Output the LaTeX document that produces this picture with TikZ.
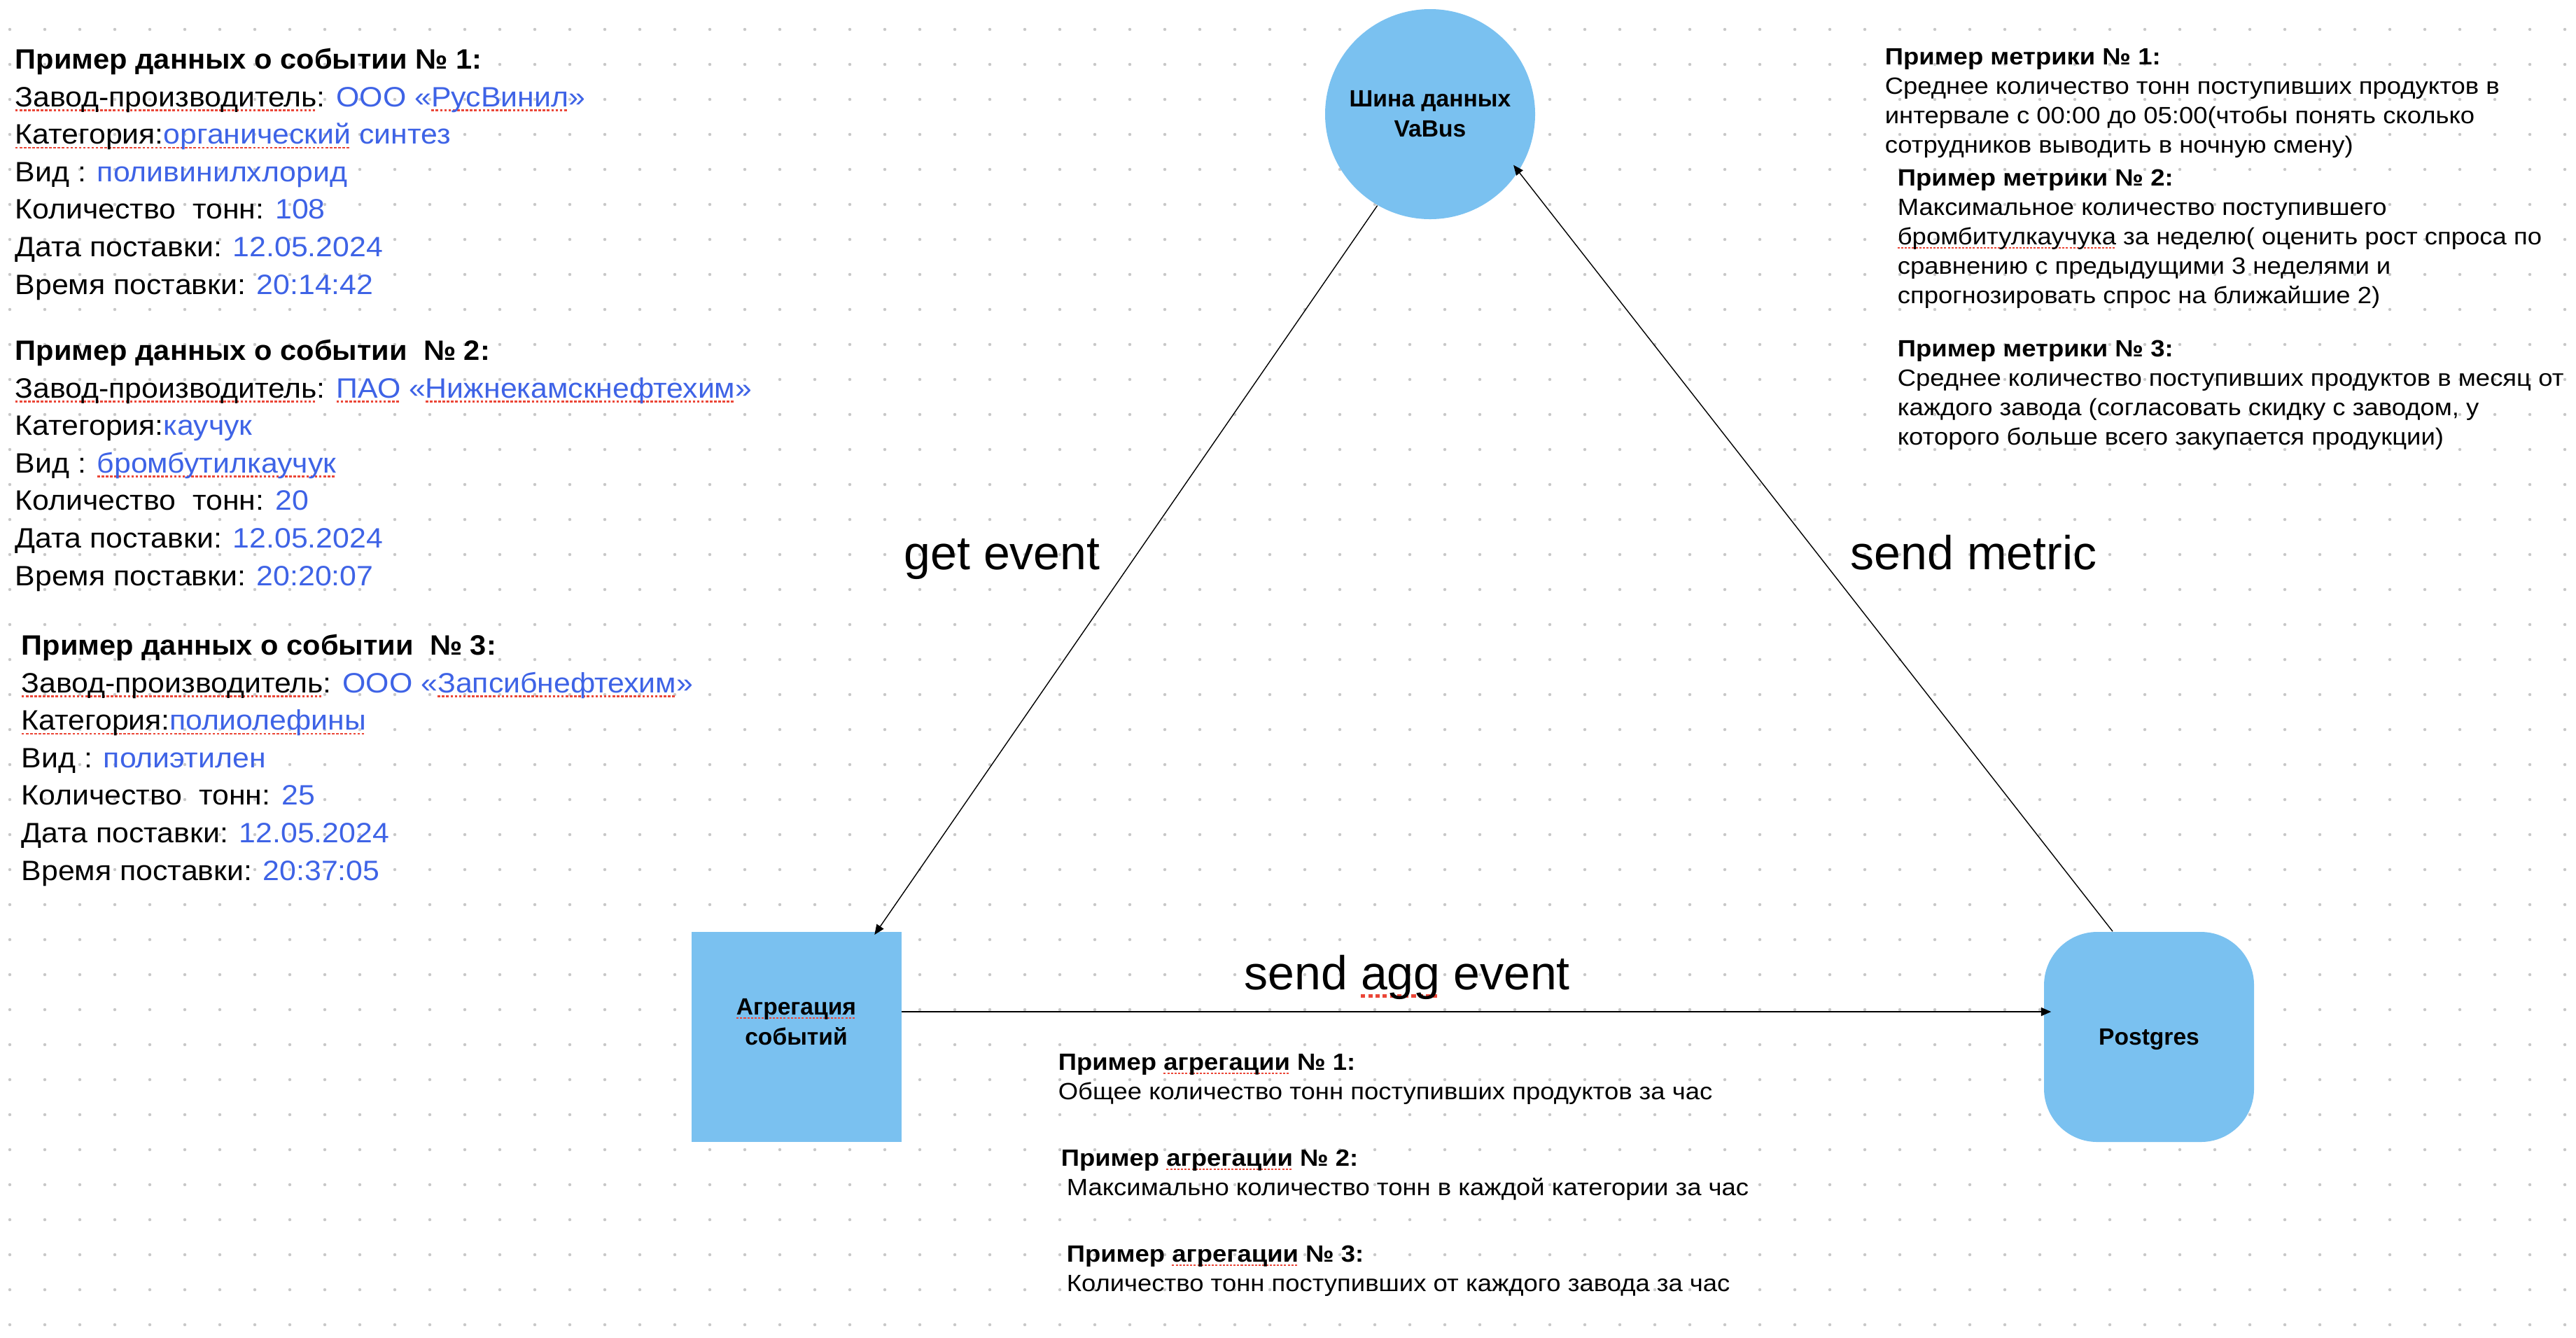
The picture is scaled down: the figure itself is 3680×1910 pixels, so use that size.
\documentclass[tikz,border=0pt]{standalone}
\usepackage{fontspec}
\setmainfont{Liberation Sans}[FakeStretch=1.07]
\newfontfamily\notefamily{Liberation Sans}[FakeStretch=1.085]
\newfontfamily\evheadfamily{Liberation Sans}[FakeStretch=1.04]
\newfontfamily\plainfamily{Liberation Sans}
\usepackage{tikz}
\usetikzlibrary{arrows.meta,positioning,shapes.geometric}
\definecolor{busblue}{RGB}{122,193,240}
\definecolor{valblue}{RGB}{62,99,230}
\definecolor{spellred}{RGB}{235,70,55}
\definecolor{griddot}{RGB}{200,200,200}
\newcommand{\evfont}{\fontsize{10}{13.4}\selectfont}
\newcommand{\notefont}{\notefamily\fontsize{8.4}{10.5}\selectfont}
\newcommand{\boxfont}{\plainfamily\bfseries\fontsize{8.4}{10.75}\selectfont}
\newcommand{\flowfont}{\plainfamily\fontsize{17}{20}\selectfont}
\tikzstyle{busnode} = [circle, fill=busblue, minimum size=75pt, inner sep=0pt, align=center, font=\boxfont]
\tikzstyle{aggnode} = [rectangle, fill=busblue, minimum size=75pt, inner sep=0pt, align=center, font=\boxfont]
\tikzstyle{dbnode} = [rectangle, rounded corners=19pt, fill=busblue, minimum size=75pt, inner sep=0pt, font=\boxfont]
\tikzstyle{evtext} = [anchor=base west, inner sep=0pt, align=left, font=\evfont]
\tikzstyle{notetext} = [anchor=base west, inner sep=0pt, align=left, font=\notefont]
\tikzstyle{flowlabel} = [anchor=base west, inner sep=0pt, font=\flowfont]
\tikzstyle{flowlink} = [draw, line width=0.35pt, -{Triangle[length=3.6pt,width=3pt]}]
\newcommand{\val}[1]{\textcolor{valblue}{#1}}% blue value text
\newsavebox{\splbox}
\newcommand{\spl}[1]{% red dotted mark under a word
  \sbox{\splbox}{#1}%
  \rlap{\lower0.17em\hbox to\wd\splbox{\color{spellred}\xleaders\hbox{\rule{0.09em}{0.065em}\kern0.06em}\hfil}}%
  \usebox{\splbox}%
}
\newcommand{\eventblock}[9]{% #1: name; #2: base point of last line; #3: number; #4: plant; #5: category; #6..#9: fields
  \node[evtext] (#1) at (#2) {{\evheadfamily\bfseries Пример данных о событии#3:}\\
    \spl{Завод-производитель}: \val{#4}\\
    #5\\
    Вид : \val{#6}\\
    Количество\ \ тонн: \val{#7}\\
    Дата поставки: \val{12.05.2024}\\
    Время поставки: \val{#9}};
}
\begin{document}
\begin{tikzpicture}[x=0.25pt, y=-0.25pt]
        % canvas and dot grid
        \fill[white] (0,0) rectangle (3680,1910);
        \useasboundingbox (0,0) rectangle (3680,1910);
        \foreach \gx in {0,...,73} {
          \foreach \gy in {0,...,37} { \fill[griddot] (14+50*\gx, 42+50*\gy) circle (0.55pt); }
        }
        % event examples
        \eventblock{ev1}{21,420}{ № 1}{ООО «\spl{РусВинил}»}{\spl{Категория:}\val{\spl{органический} синтез}}{поливинилхлорид}{108}{}{20:14:42}
        \eventblock{ev2}{21,836}{\ \ № 2}{\spl{ПАО} «\spl{Нижнекамскнефтехим}»}{Категория:\val{каучук}}{\spl{бромбутилкаучук}}{20}{}{20:20:07}
        \eventblock{ev3}{30,1257}{\ \ № 3}{ООО «\spl{Запсибнефтехим}»}{\spl{Категория:}\val{\spl{полиолефины}}}{полиэтилен}{25}{}{20:37:05}
        % services
        \node[busnode] (bus) at (2043,163) {Шина данных\\VaBus};
        \node[aggnode, text depth=10.75pt] (agg) at (1137.5,1481) {\spl{Агрегация}\\событий};
        \node[dbnode, text depth=0pt] (db) at (3070,1481) {Postgres};
        % metrics
        \node[notetext] (metric1) at (2692,218) {\textbf{Пример метрики № 1:}\\
          Среднее количество тонн поступивших продуктов в\\
          интервале с 00:00 до 05:00(чтобы понять сколько\\
          сотрудников выводить в ночную смену)};
        \node[notetext] (metric2) at (2710,433) {\textbf{Пример метрики № 2:}\\
          Максимальное количество поступившего\\
          \spl{бромбитулкаучука} за неделю( оценить рост спроса по\\
          сравнению с предыдущими 3 неделями и\\
          спрогнозировать спрос на ближайшие 2)};
        \node[notetext] (metric3) at (2710,635) {\textbf{Пример метрики № 3:}\\
          Среднее количество поступивших продуктов в месяц от\\
          каждого завода (согласовать скидку с заводом, у\\
          которого больше всего закупается продукции)};
        % aggregations
        \node[notetext] (agg1) at (1511,1570) {\textbf{Пример \spl{агрегации} № 1:}\\
          Общее количество тонн поступивших продуктов за час};
        \node[notetext] (agg2) at (1515,1707) {\textbf{Пример \spl{агрегации} № 2:}\\
          \hspace*{2pt}Максимально количество тонн в каждой категории за час};
        \node[notetext] (agg3) at (1523,1844) {\textbf{Пример \spl{агрегации} № 3:}\\
          Количество тонн поступивших от каждого завода за час};
        % flows
        \node[flowlabel] (getlbl) at (1291,813) {get event};
        \node[flowlabel] (metriclbl) at (2643,813) {send metric};
        \node[flowlabel] (agglbl) at (1777,1413) {send \spl{agg} event};
        \draw[flowlink] (bus.240) -- ([xshift=-9.75pt,yshift=-1.2pt]agg.north east);
        \draw[flowlink, line width=0.5pt, shorten >=-2.75pt] ([yshift=9pt]agg.east) -- ([yshift=9pt]db.west);
        \draw[flowlink, shorten >=-3pt] ([xshift=-13pt]db.north) -- (bus.-33);
      \end{tikzpicture}
\end{document}
